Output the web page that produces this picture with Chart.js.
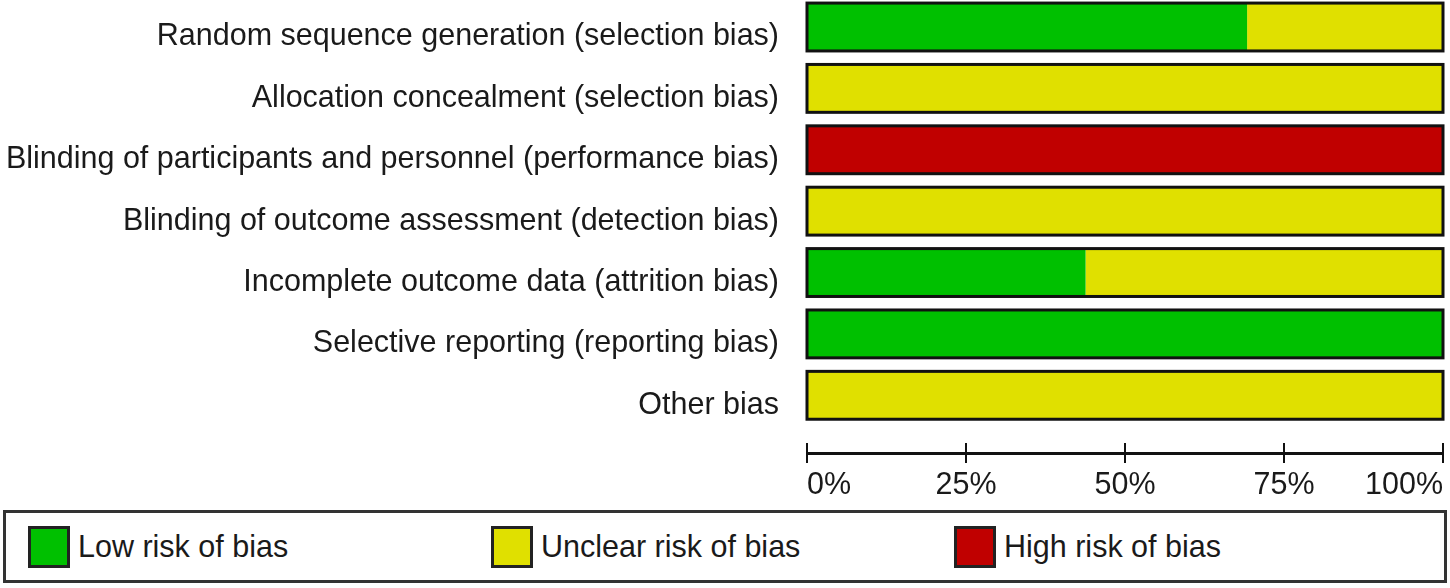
<!DOCTYPE html>
<html>
<head>
<meta charset="utf-8">
<script src="https://cdn.jsdelivr.net/npm/chart.js@4.4.0/dist/chart.umd.min.js"></script>
<style>
  html, body { margin: 0; padding: 0; background: #fff; }
  body { width: 1450px; height: 588px; position: relative; overflow: hidden; font-family: "Liberation Sans", Arial, sans-serif; }
  #chart-wrap { position: absolute; left: 0; top: 0; width: 1450px; height: 500px; }
  #legend {
    position: absolute; left: 3px; top: 510px; width: 1444px; height: 73px;
    box-sizing: border-box; border: 3px solid #333;
    display: flex; align-items: center; padding-left: 22px;
  }
  .item { width: 463px; display: flex; align-items: center; flex: none; }
  .swatch { width: 42px; height: 42px; box-sizing: border-box; border: 3px solid #222; margin-right: 8px; }
  .item span { font-size: 30.5px; color: #1a1a1a; }
</style>
</head>
<body>
<div id="chart-wrap"><canvas id="bias-chart" width="1450" height="500"></canvas></div>
<div id="legend"></div>
<script>
// Risk of bias summary: percentage of studies per domain

const categories = [
  'Random sequence generation (selection bias)',
  'Allocation concealment (selection bias)',
  'Blinding of participants and personnel (performance bias)',
  'Blinding of outcome assessment (detection bias)',
  'Incomplete outcome data (attrition bias)',
  'Selective reporting (reporting bias)',
  'Other bias'
];
const lowRisk = [69.2, 0, 0, 0, 43.8, 100, 0];
const unclearRisk = [30.8, 100, 0, 100, 56.2, 0, 100];
const highRisk = [0, 0, 100, 0, 0, 0, 0];
const xTicks = [0, 25, 50, 75, 100];

const labelFont = { family: '"Liberation Sans", Arial, sans-serif', size: 30.5 };
const textColor = '#1a1a1a';

function toPoints(values) {
  return values.map((v, i) => ({ x: v, y: i }));
}

// black frame round each whole bar + the upper half of the axis ticks
const barFrame = {
  id: 'barFrame',
  afterDatasetsDraw(chart) {
    const ctx = chart.ctx;
    const xs = chart.scales.x;
    const meta = chart.getDatasetMeta(0);
    const x0 = xs.getPixelForValue(0);
    const x1 = xs.getPixelForValue(100);
    ctx.save();
    ctx.strokeStyle = '#111';
    ctx.lineWidth = 3;
    meta.data.forEach(bar => {
      ctx.strokeRect(x0, bar.y - bar.height / 2, x1 - x0, bar.height);
    });
    ctx.restore();
  },
  afterDraw(chart) {
    const ctx = chart.ctx;
    const xs = chart.scales.x;
    const bottom = chart.chartArea.bottom;
    ctx.save();
    ctx.strokeStyle = '#111';
    ctx.lineWidth = 2;
    xs.ticks.forEach(t => {
      const px = xs.getPixelForValue(t.value);
      ctx.beginPath();
      ctx.moveTo(px, bottom - 10);
      ctx.lineTo(px, bottom);
      ctx.stroke();
    });
    ctx.restore();
  }
};

const chart = new Chart(document.getElementById('bias-chart'), {
  type: 'bar',
  data: {
    datasets: [
      { label: 'Low risk of bias', data: toPoints(lowRisk), backgroundColor: '#00c000' },
      { label: 'Unclear risk of bias', data: toPoints(unclearRisk), backgroundColor: '#e0e000' },
      { label: 'High risk of bias', data: toPoints(highRisk), backgroundColor: '#c00000' }
    ]
  },
  options: {
    indexAxis: 'y',
    responsive: false,
    animation: false,
    devicePixelRatio: 1,
    layout: { padding: { left: 0, right: 7, top: 0, bottom: 0 } },
    datasets: { bar: { borderWidth: 0, barPercentage: 0.78, categoryPercentage: 1 } },
    plugins: { legend: { display: false }, tooltip: { enabled: false } },
    scales: {
      x: {
        stacked: true,
        min: 0,
        max: 100,
        afterBuildTicks: s => { s.ticks = xTicks.map(v => ({ value: v })); },
        ticks: { callback: v => v + '%', align: 'inner', padding: 4, font: labelFont, color: textColor, maxRotation: 0, autoSkip: false },
        grid: { drawOnChartArea: false, drawTicks: true, tickLength: 10, color: '#111', lineWidth: 2 },
        border: { display: true, color: '#111', width: 3 },
        afterFit: s => { s.height = 47; s.paddingLeft = 0; s.paddingRight = 0; }
      },
      y: {
        type: 'linear',
        stacked: true,
        reverse: true,
        offset: false,
        min: -0.44,
        max: 6.94,
        afterBuildTicks: s => { s.ticks = categories.map((c, i) => ({ value: i })); },
        ticks: { callback: v => categories[v], font: labelFont, color: textColor, padding: 28, labelOffset: 10 },
        grid: { display: false, drawTicks: false, offset: false },
        border: { display: false },
        afterFit: s => { s.width = 807; s.paddingTop = 0; s.paddingBottom = 0; }
      }
    }
  },
  plugins: [barFrame]
});

// legend built from the datasets
const legendDiv = document.getElementById('legend');
chart.data.datasets.forEach(ds => {
  const item = document.createElement('div');
  item.className = 'item';
  item.innerHTML = `<div class="swatch" style="background:${ds.backgroundColor}"></div><span>${ds.label}</span>`;
  legendDiv.appendChild(item);
});
</script>
</body>
</html>
